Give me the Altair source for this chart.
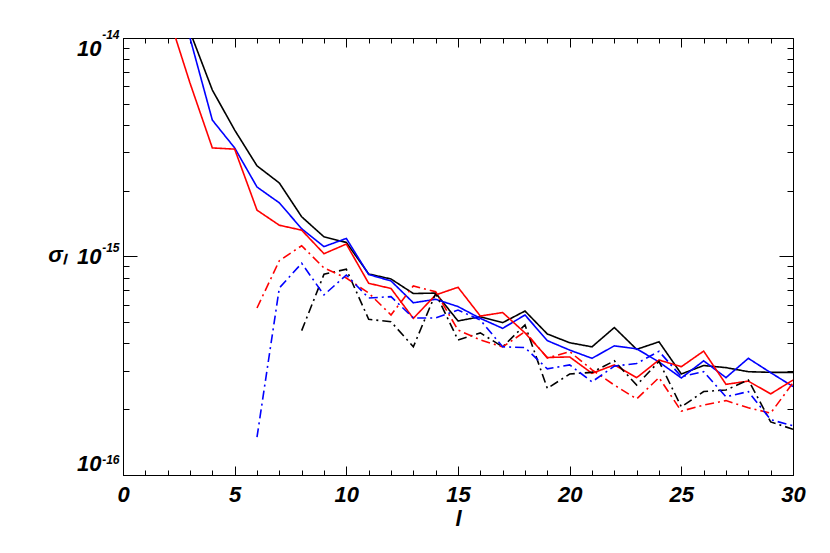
import altair as alt
import pandas as pd

# ---------------- data ----------------
l_black_solid = list(range(3, 31))
black_solid = [1.07e-14, 5.78e-15, 3.79e-15, 2.60e-15, 2.17e-15, 1.52e-15, 1.23e-15,
               1.16e-15, 8.32e-16, 7.89e-16, 6.77e-16, 6.80e-16, 5.07e-16, 5.30e-16,
               4.98e-16, 5.63e-16, 4.42e-16, 4.03e-16, 3.86e-16, 4.73e-16, 3.76e-16,
               4.07e-16, 2.90e-16, 3.17e-16, 3.10e-16, 2.97e-16, 2.95e-16, 2.95e-16]

l_blue_solid = list(range(3, 31))
blue_solid = [1.00e-14, 4.21e-15, 3.14e-15, 2.08e-15, 1.76e-15, 1.34e-15, 1.11e-15,
              1.21e-15, 8.27e-16, 7.73e-16, 6.14e-16, 6.37e-16, 5.90e-16, 5.21e-16,
              4.69e-16, 5.40e-16, 4.12e-16, 3.73e-16, 3.42e-16, 3.90e-16, 3.78e-16,
              3.29e-16, 2.78e-16, 3.33e-16, 2.79e-16, 3.42e-16, 2.94e-16, 2.54e-16]

l_red_solid = list(range(2, 31))
red_solid = [1.30e-14, 6.22e-15, 3.14e-15, 3.10e-15, 1.63e-15, 1.39e-15, 1.32e-15,
             1.03e-15, 1.14e-15, 7.54e-16, 7.14e-16, 5.21e-16, 6.67e-16, 7.23e-16,
             5.34e-16, 5.54e-16, 4.47e-16, 3.45e-16, 3.47e-16, 2.92e-16, 3.19e-16,
             2.79e-16, 3.36e-16, 3.13e-16, 3.69e-16, 2.60e-16, 2.69e-16, 2.35e-16,
             2.72e-16]

l_black_dd = list(range(8, 31))
black_dd = [4.58e-16, 8.30e-16, 8.74e-16, 5.16e-16, 5.03e-16, 3.86e-16, 6.78e-16,
            4.15e-16, 4.47e-16, 3.86e-16, 4.86e-16, 2.49e-16, 2.90e-16, 2.95e-16,
            3.33e-16, 2.58e-16, 3.31e-16, 2.05e-16, 2.41e-16, 2.45e-16, 2.72e-16,
            1.75e-16, 1.62e-16]

l_red_dd = list(range(6, 31))
red_dd = [5.81e-16, 9.57e-16, 1.12e-15, 8.86e-16, 7.97e-16, 6.81e-16, 5.40e-16,
          7.33e-16, 6.90e-16, 4.61e-16, 4.15e-16, 3.86e-16, 4.53e-16, 3.43e-16,
          3.67e-16, 3.03e-16, 2.58e-16, 2.23e-16, 2.79e-16, 1.96e-16, 2.09e-16,
          2.19e-16, 2.03e-16, 1.92e-16, 2.64e-16]

l_blue_dd = list(range(6, 31))
blue_dd = [1.49e-16, 7.18e-16, 9.31e-16, 6.67e-16, 8.23e-16, 6.46e-16, 6.55e-16,
           5.23e-16, 5.23e-16, 5.69e-16, 5.12e-16, 3.86e-16, 3.83e-16, 3.06e-16,
           3.19e-16, 2.67e-16, 3.15e-16, 3.24e-16, 3.68e-16, 2.82e-16, 2.97e-16,
           2.28e-16, 2.41e-16, 1.79e-16, 1.68e-16]

series_names = ["black solid", "blue solid", "red solid",
                "black dash-dot", "red dash-dot", "blue dash-dot"]
series_colors = ["#000000", "#0000ff", "#ff0000", "#000000", "#ff0000", "#0000ff"]
series_dashes = [[1, 0], [1, 0], [1, 0], [9, 4, 2, 4], [9, 4, 2, 4], [9, 4, 2, 4]]

x_ticks = list(range(0, 31))
x_labels = [0, 5, 10, 15, 20, 25, 30]
y_ticks = [m * 10.0 ** e for e in (-16, -15) for m in range(1, 10)] + [1e-14]
y_decades = [1e-16, 1e-15, 1e-14]
y_exponents = {-16: "-16", -15: "-15", -14: "-14"}

# ---------------- table ----------------
rows = []
for name, ls, vs in zip(series_names,
                        [l_black_solid, l_blue_solid, l_red_solid, l_black_dd, l_red_dd, l_blue_dd],
                        [black_solid, blue_solid, red_solid, black_dd, red_dd, blue_dd]):
    for l, v in zip(ls, vs):
        rows.append({"l": l, "v": v, "series": name})
df = pd.DataFrame(rows)

W, H = 670, 437
FONT = "Liberation Sans Narrow, Liberation Sans, Arial, sans-serif"

xs = alt.Scale(domain=[0, 30], nice=False, zero=False)
ys = alt.Scale(type="log", domain=[1e-16, 1e-14], nice=False)

exp_expr = " : ".join(
    f"abs(log(datum.value)/LN10 - ({e})) < 0.01 ? '{t}'" for e, t in y_exponents.items()
) + " : ''"

major_y = "abs(log(datum.value)/LN10 - round(log(datum.value)/LN10)) < 0.001"
major_x = "datum.value % 5 === 0"

base = alt.Chart(df)

# layer with the data and the outer label axes
lines = base.mark_line(clip=True, strokeWidth=1.6).encode(
    x=alt.X("l:Q", scale=xs,
            axis=alt.Axis(orient="bottom", values=x_labels, ticks=False, title="l",
                          labelPadding=9, titlePadding=3, grid=False, format="d",
                          labelFlush=False)),
    y=alt.Y("v:Q", scale=ys,
            axis=alt.Axis(orient="left", values=y_decades, ticks=False,
                          labelExpr="'10'", title="σₗ", titleAngle=0,
                          titleAlign="center", titleBaseline="middle",
                          titleX=-66, titleY=H / 2 - 2, labelPadding=22, grid=False,
                          labelFlush=True)),
    color=alt.Color("series:N", scale=alt.Scale(domain=series_names, range=series_colors), legend=None),
    strokeDash=alt.StrokeDash("series:N", scale=alt.Scale(domain=series_names, range=series_dashes), legend=None),
    detail="series:N",
)

tick_x = {"condition": {"test": major_x, "value": 9}, "value": 5}
tick_y = {"condition": {"test": major_y, "value": 14}, "value": 6}

# inward ticks on bottom edge and left edge
ticks_a = base.mark_point(opacity=0).encode(
    x=alt.X("l:Q", scale=xs,
            axis=alt.Axis(orient="top", offset=-H, values=x_ticks, labels=False, title=None,
                          tickSize=tick_x, grid=False)),
    y=alt.Y("v:Q", scale=ys,
            axis=alt.Axis(orient="right", offset=-W, values=y_ticks, labels=False, title=None,
                          tickSize=tick_y, grid=False)),
)

# inward ticks on top edge and right edge
ticks_b = base.mark_point(opacity=0).encode(
    x=alt.X("l:Q", scale=xs,
            axis=alt.Axis(orient="bottom", offset=-H, values=x_ticks, labels=False, title=None,
                          tickSize=tick_x, grid=False)),
    y=alt.Y("v:Q", scale=ys,
            axis=alt.Axis(orient="left", offset=-W, values=y_ticks, labels=False, title=None,
                          tickSize=tick_y, grid=False)),
)

# exponents of the y labels (superscripts)
exps = base.mark_point(opacity=0).encode(
    x=alt.X("l:Q", scale=xs,
            axis=alt.Axis(orient="top", offset=-H, values=[], labels=False, ticks=False,
                          domain=False, title=None, grid=False)),
    y=alt.Y("v:Q", scale=ys,
            axis=alt.Axis(orient="left", values=y_decades, ticks=False, domain=False,
                          labelExpr=exp_expr, labelFontSize=12, labelPadding=4,
                          labelOffset=-9, title=None, grid=False, labelFlush=True)),
)

chart = alt.layer(lines, ticks_a, ticks_b, exps).resolve_axis(
    x="independent", y="independent"
).properties(
    width=W, height=H,
    autosize=alt.AutoSizeParams(type="none"),
    padding={"left": 115, "top": 30, "right": 29, "bottom": 70},
).configure_view(stroke=None).configure_axis(
    domainColor="#000000", domainWidth=1, tickColor="#000000", tickWidth=1,
    labelFont=FONT, labelFontStyle="italic", labelFontWeight="bold", labelFontSize=22,
    labelColor="#000000",
    titleFont=FONT, titleFontStyle="italic", titleFontWeight="bold", titleFontSize=22,
    titleColor="#000000",
)

chart.save("out.html", embed_options={"renderer": "svg", "actions": False})
